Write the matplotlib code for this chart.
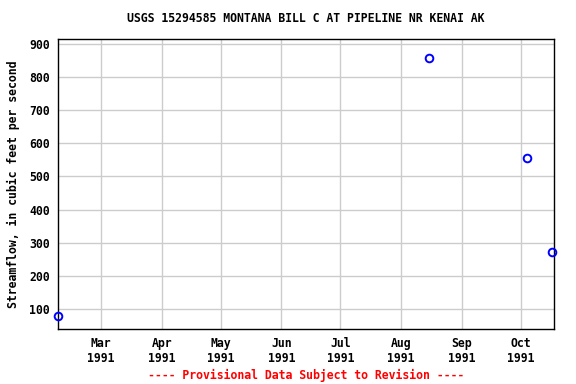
import matplotlib
matplotlib.use("Agg")
import matplotlib.pyplot as plt
import matplotlib.dates as mdates
import numpy as np
from datetime import datetime

# data
dates = [datetime(1991, 2, 7), datetime(1991, 8, 15), datetime(1991, 10, 4), datetime(1991, 10, 17)]
flow = [80, 857, 555, 272]

tick_dates = [datetime(1991, m, 1) for m in range(3, 11)]
tick_labels = ["Mar\n1991", "Apr\n1991", "May\n1991", "Jun\n1991",
               "Jul\n1991", "Aug\n1991", "Sep\n1991", "Oct\n1991"]
yticks = [100, 200, 300, 400, 500, 600, 700, 800, 900]

plt.rcParams['font.family'] = ['DejaVu Sans Mono']
plt.rcParams['font.weight'] = 'bold'
fs = 8.3

fig = plt.figure(figsize=(5.76, 3.84), dpi=100)
ax = fig.add_axes([58 / 576, 1 - 329 / 384, (554 - 58) / 576, (329 - 39) / 384])

ax.plot(dates, flow, linestyle="none", marker="o", markersize=5.5,
        markerfacecolor="none", markeredgecolor="blue", markeredgewidth=1.4,
        clip_on=False, zorder=3)

ax.set_xlim(datetime(1991, 2, 7), datetime(1991, 10, 18))
ax.set_ylim(40, 914)
ax.set_xticks(tick_dates)
ax.set_xticklabels(tick_labels)
ax.set_yticks(yticks)
ax.tick_params(labelsize=fs, length=0, pad=6)
for lab in ax.get_xticklabels() + ax.get_yticklabels():
    lab.set_fontweight('bold')

ax.grid(True, color="#cccccc", linewidth=1)
ax.set_axisbelow(True)
for s in ax.spines.values():
    s.set_linewidth(1)
    s.set_color("black")

ax.set_ylabel("Streamflow, in cubic feet per second", fontsize=fs, fontweight="bold")
ax.yaxis.set_label_coords(-38 / 496, 0.5)
fig.text(306 / 576, 1 - 19 / 384, "USGS 15294585 MONTANA BILL C AT PIPELINE NR KENAI AK",
         ha="center", va="center", fontsize=fs, fontweight="bold")
fig.text(306 / 576, 1 - 375 / 384, "---- Provisional Data Subject to Revision ----",
         ha="center", va="center", fontsize=fs, fontweight="bold", color="red")

fig.savefig("out.png", dpi=100)
